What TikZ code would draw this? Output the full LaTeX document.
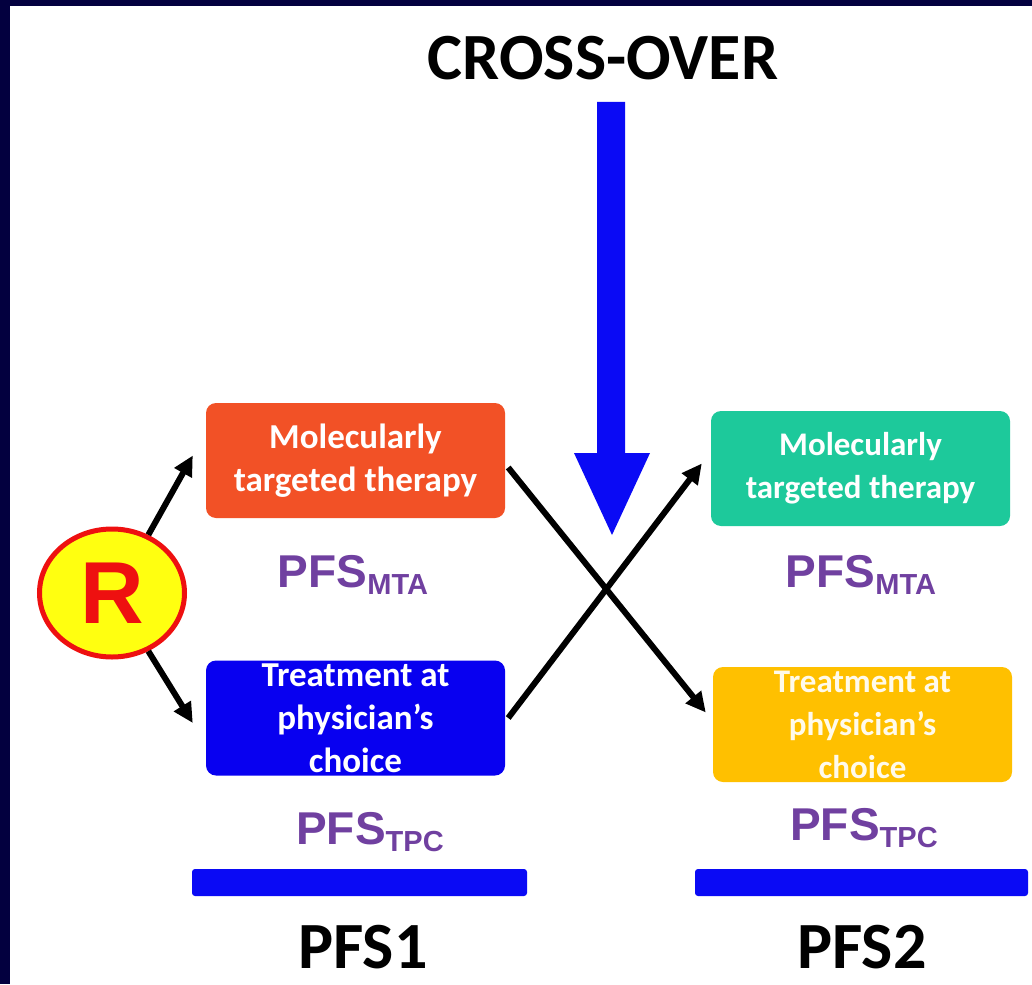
\documentclass[tikz,border=0pt]{standalone}
\usepackage{fontspec}
\setmainfont{Carlito}
\newfontfamily\arialf{Liberation Sans}
\usetikzlibrary{arrows.meta,shapes.geometric,calc}
\definecolor{navy}{HTML}{03003F}
\definecolor{boxorange}{HTML}{F25126}
\definecolor{boxblue}{HTML}{0800F0}
\definecolor{boxteal}{HTML}{1DC99B}
\definecolor{boxamber}{HTML}{FFC000}
\definecolor{pfspurple}{HTML}{7040A0}
\definecolor{arrowblue}{HTML}{0A0AF5}
\definecolor{rred}{HTML}{EE1010}
\definecolor{ryellow}{HTML}{FFFF10}
\begin{document}
\begin{tikzpicture}[x=1pt,y=-1pt,
  box/.style={rounded corners=10pt, minimum width=299pt, minimum height=115pt, inner sep=0pt, align=center, text=white},
  lfont/.style={font={\fontsize{35pt}{43pt}\selectfont\bfseries}},
  rfont/.style={font={\fontsize{33pt}{43pt}\selectfont\bfseries}},
  pfs/.style={text=pfspurple, font={\arialf\bfseries\fontsize{46pt}{50pt}\selectfont}, inner sep=0pt, anchor=base},
  big/.style={font={\bfseries\fontsize{66pt}{70pt}\selectfont}, inner sep=0pt, anchor=base, text=black},
  arr/.style={line width=6pt, draw=black, -{Triangle[length=20pt,width=19pt]}},
  bar/.style={fill=arrowblue, rounded corners=3pt}
]
\useasboundingbox (0,0) rectangle (1032,984);
\fill[white] (0,0) rectangle (1032,984);
\fill[navy] (0,0) rectangle (1032,6);
\fill[navy] (0,0) rectangle (10,984);

% title and big arrow
\node[big] (co) at (603,80) {CROSS-OVER};
\fill[arrowblue] (597,102) -- (625,102) -- (625,453) -- (650,453) -- (612,535) -- (574,453) -- (597,453) -- cycle;

% randomisation
\node[ellipse, draw=rred, line width=5pt, fill=ryellow, minimum width=145pt, minimum height=128pt, inner sep=0pt,
      text=rred, font={\arialf\bfseries\fontsize{88pt}{88pt}\selectfont}] (R) at (112,593) {R};

% boxes
\node[box, lfont, fill=boxorange] (box1) at (355.5,460.5) {Molecularly\\targeted therapy};
\node[box, lfont, fill=boxblue] (box2) at (355.5,718) {Treatment at\\physician’s\\choice};
\node[box, rfont, fill=boxteal] (box3) at (860.5,468.5) {Molecularly\\targeted therapy};
\node[box, rfont, fill=boxamber, text=white!92!boxamber] (box4) at (862.5,724.5) {Treatment at\\physician’s\\choice};

% PFS labels
\node[pfs] (p1) at (353,587) {PFS{\fontsize{29pt}{30pt}\selectfont\raisebox{-7pt}{MTA}}};
\node[pfs] (p2) at (370,844) {PFS{\fontsize{29pt}{30pt}\selectfont\raisebox{-7pt}{TPC}}};
\node[pfs] (p3) at (861,587) {PFS{\fontsize{29pt}{30pt}\selectfont\raisebox{-7pt}{MTA}}};
\node[pfs] (p4) at (864,840) {PFS{\fontsize{29pt}{30pt}\selectfont\raisebox{-7pt}{TPC}}};

% bars and period labels
\fill[bar] (192,869) rectangle (527,896);
\fill[bar] (695,869) rectangle (1028,896);
\node[big] (pfs1) at (363,968) {PFS1};
\node[big] (pfs2) at (862,968) {PFS2};

% connectors
\draw[arr] (R.58) -- ([shift={(-13,-5)}]box1.west);
\draw[arr] (R.-58) -- ([shift={(-13,5)}]box2.west);
\draw[arr] ([shift={(3,7)}]box1.east) -- ([shift={(-7,-12)}]box4.west);
\draw[arr] ([shift={(3,0)}]box2.east) -- ([shift={(-9,-5)}]box3.west);
\end{tikzpicture}
\end{document}
